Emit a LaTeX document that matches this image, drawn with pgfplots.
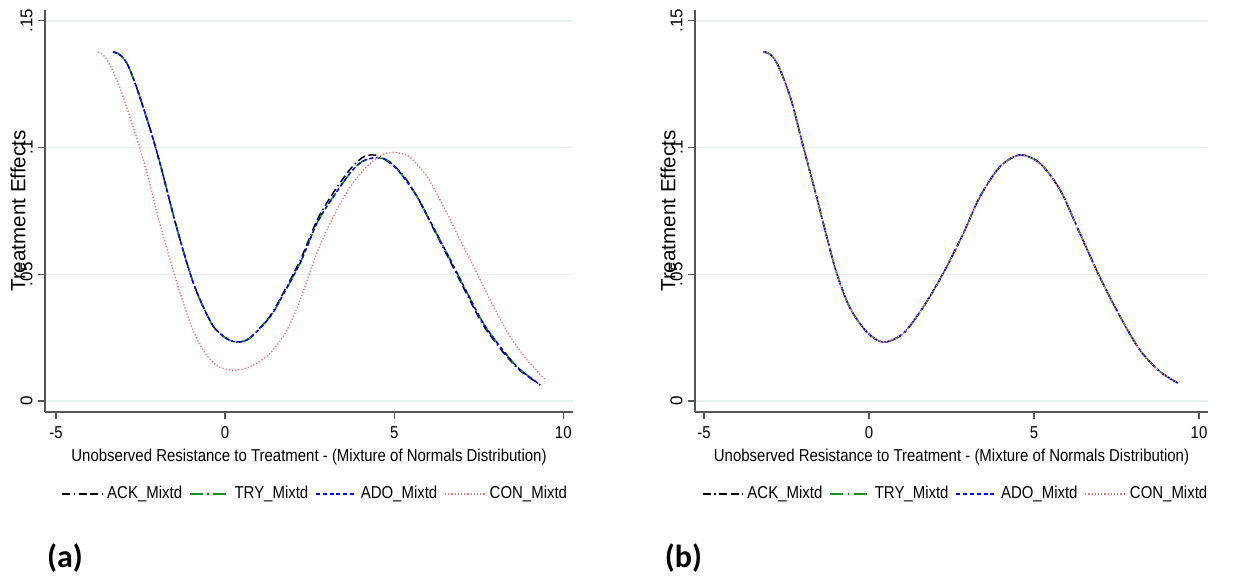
\documentclass[border=0pt]{standalone}
\usepackage{fontspec}
\setmainfont{Liberation Sans}
\newfontfamily\cond{Liberation Sans}[FakeStretch=0.87]
\newfontfamily\calib{Carlito}
\usepackage{pgfplots}
\pgfplotsset{compat=1.18}
\usepackage{pgfplotstable}

\definecolor{gridc}{RGB}{232,240,242}
\definecolor{axc}{RGB}{85,85,85}
\definecolor{tryc}{RGB}{30,140,30}
\definecolor{adoc}{RGB}{0,0,255}
\definecolor{conc}{RGB}{250,110,110}

% left panel (a)
\pgfplotstableread{
x y
-3.31 0.1377
-3.18 0.1372
-3.04 0.1358
-2.88 0.1327
-2.70 0.1268
-2.51 0.1195
-2.22 0.1075
-2.01 0.0979
-1.83 0.0890
-1.50 0.0718
-1.20 0.0576
-0.95 0.0470
-0.74 0.0399
-0.52 0.0336
-0.30 0.0286
0.06 0.0245
0.38 0.0233
0.74 0.0249
1.33 0.0332
1.63 0.0399
2.22 0.0545
2.72 0.0703
3.20 0.0806
3.70 0.0900
4.05 0.0945
4.44 0.0960
4.80 0.0950
5.18 0.0900
5.68 0.0806
6.15 0.0687
6.66 0.0557
7.16 0.0426
7.63 0.0308
8.14 0.0213
8.64 0.0134
9.00 0.0095
9.32 0.0063
}\tryA
\pgfplotstableread{
x y
-3.31 0.1377
-3.18 0.1372
-3.04 0.1358
-2.88 0.1327
-2.70 0.1268
-2.51 0.1195
-2.22 0.1075
-2.01 0.0979
-1.83 0.0890
-1.50 0.0718
-1.20 0.0576
-0.95 0.0470
-0.74 0.0399
-0.52 0.0336
-0.30 0.0286
0.06 0.0245
0.38 0.0233
0.74 0.0249
1.33 0.0335
1.63 0.0404
2.22 0.0555
2.72 0.0714
3.20 0.0822
3.70 0.0915
4.05 0.0960
4.30 0.0971
4.60 0.0963
5.18 0.0905
5.68 0.0805
6.15 0.0683
6.66 0.0550
7.16 0.0418
7.63 0.0300
8.14 0.0206
8.64 0.0130
9.00 0.0093
9.32 0.0063
}\ackA
\pgfplotstableread{
x y
-3.75 0.1378
-3.60 0.1365
-3.44 0.1335
-3.25 0.1282
-3.05 0.1215
-2.81 0.1118
-2.51 0.0995
-2.25 0.0870
-2.00 0.0735
-1.60 0.0545
-1.28 0.0405
-0.94 0.0277
-0.60 0.0190
-0.25 0.0140
0.05 0.0125
0.30 0.0122
0.74 0.0135
1.33 0.0188
1.83 0.0280
2.22 0.0399
2.71 0.0583
3.20 0.0727
3.70 0.0846
4.19 0.0925
4.60 0.0968
4.93 0.0981
5.25 0.0975
5.47 0.0962
5.97 0.0885
6.46 0.0767
6.95 0.0635
7.45 0.0504
7.94 0.0372
8.43 0.0254
8.93 0.0162
9.47 0.0083
}\conA
% right panel (b): all four series coincide
\pgfplotstableread{
x y
-3.20 0.1378
-3.06 0.1373
-2.92 0.1358
-2.76 0.1326
-2.58 0.1270
-2.34 0.1180
-1.99 0.1003
-1.59 0.0806
-1.28 0.0648
-0.98 0.0504
-0.58 0.0368
-0.07 0.0273
0.43 0.0232
1.04 0.0267
1.65 0.0372
2.25 0.0504
2.86 0.0662
3.36 0.0806
3.97 0.0925
4.58 0.0971
5.18 0.0938
5.79 0.0833
6.39 0.0662
6.99 0.0490
7.61 0.0333
8.21 0.0201
8.82 0.0116
9.37 0.0070
}\allB

\newcommand\hf{\cond\fontsize{8.6}{10}\selectfont}

\pgfplotsset{
  stataaxis/.style={
    scale only axis, anchor=south west,
    height=201pt,
    axis x line*=bottom, axis y line*=left,
    axis line style={axc, line width=0.6pt},
    tick style={axc, line width=0.6pt},
    tick align=outside, major tick length=3.5pt,
    ymin=-0.00434, ymax=0.1543,
    ytick={0,0.05,0.1,0.15}, yticklabels={0,.05,.1,.15},
    xtick={-5,0,5,10}, xticklabels={-5,0,5,10},
    ymajorgrids, grid style={gridc, line width=0.7pt},
    xticklabel style={font=\hf, anchor=north, inner sep=0pt, yshift=-3.4pt},
    yticklabel style={font=\fontsize{8.5}{10}\selectfont, xshift=-2.5pt, rotate=90, anchor=south, inner sep=0pt},
    xlabel={Unobserved Resistance to Treatment - (Mixture of Normals Distribution)},
    xlabel style={font=\hf, at={(axis description cs:0.5,-0.112)}, anchor=center},
    ylabel={Treatment Effects},
    ylabel style={font=\fontsize{10.3}{12}\selectfont, anchor=center},
    legend columns=4,
    legend style={draw=none, fill=none, font=\hf, inner sep=0pt,
      /tikz/every even column/.append style={column sep=1.5pt}},
    legend image code/.code={\draw[##1] (0pt,0pt) -- (20pt,0pt);},
  },
  ackst/.style={black, line width=0.75pt, dash pattern=on 4pt off 1.8pt on 0.6pt off 1.8pt on 4pt off 1.8pt},
  tryst/.style={tryc, line width=0.75pt, dash pattern=on 6.5pt off 2.3pt on 0.7pt off 2.3pt},
  adost/.style={adoc, line width=0.75pt, dash pattern=on 2pt off 1.4pt},
  const/.style={conc, line width=0.7pt, dash pattern=on 0.6pt off 1pt},
}

\begin{document}
\begin{tikzpicture}[x=1pt,y=1pt]
\path[use as bounding box] (0,0) rectangle (623.5,288.5);

\begin{axis}[stataaxis, at={(22.5pt,82.5pt)}, width=264pt,
  xmin=-5.325, xmax=10.287,
  ylabel style={at={(axis description cs:-0.0511,0.5)}},
  legend style={at={(axis description cs:0.514,-0.204)}, anchor=center}]
\addplot[ackst, smooth] table[x=x,y=y] {\ackA};
\addlegendentry{ACK\_Mixtd}
\addplot[tryst, smooth] table[x=x,y=y] {\tryA};
\addlegendentry{TRY\_Mixtd}
\addplot[adost, smooth] table[x=x,y=y] {\tryA};
\addlegendentry{ADO\_Mixtd}
\addplot[const, smooth] table[x=x,y=y] {\conA};
\addlegendentry{CON\_Mixtd}
\end{axis}

\begin{axis}[stataaxis, at={(347.5pt,82.5pt)}, width=256.5pt,
  xmin=-5.273, xmax=10.273,
  ylabel style={at={(axis description cs:-0.0526,0.5)}},
  legend style={at={(axis description cs:0.51,-0.204)}, anchor=center}]
\addplot[ackst, smooth] table[x=x,y=y] {\allB};
\addlegendentry{ACK\_Mixtd}
\addplot[tryst, smooth] table[x=x,y=y] {\allB};
\addlegendentry{TRY\_Mixtd}
\addplot[adost, smooth] table[x=x,y=y] {\allB};
\addlegendentry{ADO\_Mixtd}
\addplot[const, smooth] table[x=x,y=y] {\allB};
\addlegendentry{CON\_Mixtd}
\end{axis}

\node[font=\calib\bfseries\fontsize{16}{18}\selectfont] at (32.5,9.5) {(a)};
\node[font=\calib\bfseries\fontsize{16}{18}\selectfont] at (341.75,9.5) {(b)};
\end{tikzpicture}
\end{document}
